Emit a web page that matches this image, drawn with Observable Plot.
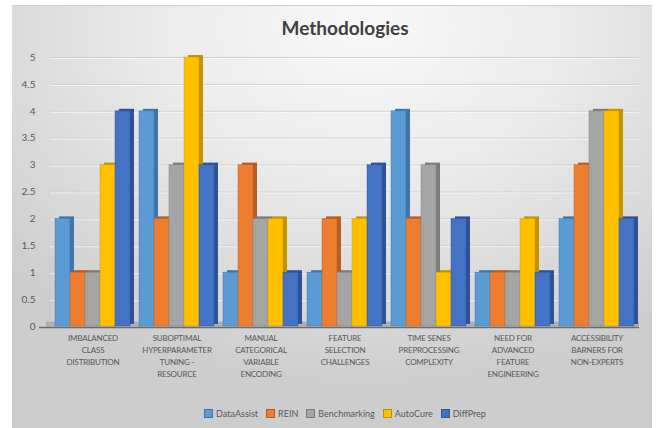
<!DOCTYPE html>
<html>
<head>
<meta charset="utf-8">
<script src="https://cdn.jsdelivr.net/npm/d3@7"></script>
<script src="https://cdn.jsdelivr.net/npm/@observablehq/plot@0.6"></script>
<style>
  html, body { margin: 0; padding: 0; background: #ffffff; }
  #panel {
    position: absolute; left: 12px; top: 5px; width: 640px; height: 423px;
    border-top: 1px solid #cfcfcf;
    background: radial-gradient(ellipse 75% 85% at 55% 5%, #f8f8f8 0%, #ececec 40%, #dadada 75%, #cdcdcd 100%);
    overflow: hidden;
  }
  #title {
    padding-top: 10px; height: 24px; line-height: 24px;
    text-align: center; font-family: Lato, "Open Sans", sans-serif;
    font-weight: bold; font-size: 19px; color: #404040;
    padding-left: 26px; box-sizing: content-box;
  }
  #legend {
    display: flex; justify-content: center; align-items: center; gap: 8px;
    height: 26px; margin-left: 26px;
    font-family: Lato, "Open Sans", sans-serif; font-size: 9px; color: #595959;
  }
  #legend .item { display: flex; align-items: center; gap: 3px; }
  #legend .sw { width: 7px; height: 7px; border: 1px solid rgba(0,0,0,0.25); }
  svg { display: block; }
  .fxlabels text { letter-spacing: -0.2px; }
</style>
</head>
<body>
<div id="panel">
  <div id="title">Methodologies</div>
  <div id="chart"></div>
  <div id="legend"></div>
</div>
<script>
const categories = [
  "Imbalanced Class Distribution",
  "Suboptimal Hyperparameter Tuning - Resource",
  "Manual Categorical Variable Encoding",
  "Feature Selection Challenges",
  "Time Senes Preprocessing Complexity",
  "Need for Advanced Feature Engineering",
  "Accessibility Barners for Non-Experts"
];
const tickLabels = [
  "IMBALANCED\nCLASS\nDISTRIBUTION",
  "SUBOPTIMAL\nHYPERPARAMETER\nTUNING -\nRESOURCE",
  "MANUAL\nCATEGORICAL\nVARIABLE\nENCODING",
  "FEATURE\nSELECTION\nCHALLENGES",
  "TIME SENES\nPREPROCESSING\nCOMPLEXITY",
  "NEED FOR\nADVANCED\nFEATURE\nENGINEERING",
  "ACCESSIBILITY\nBARNERS FOR\nNON-EXPERTS"
];
const series = ["DataAssist", "REIN", "Benchmarking", "AutoCure", "DiffPrep"];
const dataAssist   = [2, 4, 1, 1, 4, 1, 2];
const rein         = [1, 2, 3, 2, 2, 1, 3];
const benchmarking = [1, 3, 2, 1, 3, 1, 4];
const autoCure     = [3, 5, 2, 2, 1, 2, 4];
const diffPrep     = [4, 3, 1, 3, 2, 1, 2];
const yTicks = [0, 0.5, 1, 1.5, 2, 2.5, 3, 3.5, 4, 4.5, 5];
const frontColors = ["#5B9BD5", "#ED7D31", "#A5A5A5", "#FFC000", "#4472C4"];
const sideColors  = ["#3F75A8", "#B85E22", "#7C7C7C", "#C49300", "#2E5395"];

const values = [dataAssist, rein, benchmarking, autoCure, diffPrep];
const rows = [];
series.forEach((s, si) => {
  categories.forEach((c, ci) => rows.push({category: c, series: s, value: values[si][ci]}));
});
const labelOf = new Map(categories.map((c, i) => [c, tickLabels[i]]));
const sideOf = new Map(series.map((s, i) => [s, sideColors[i]]));
const gridTicks = yTicks.filter(d => d > 0);
const restCategories = categories.slice(1);
const firstCategory = categories.slice(0, 1);

const chart = Plot.plot({
  width: 640,
  height: 360,
  marginLeft: 40,
  marginRight: 15,
  marginTop: 17,
  marginBottom: 74,
  style: {background: "transparent", fontFamily: "Lato, 'Open Sans', sans-serif", overflow: "visible"},
  fx: {domain: categories, padding: 0.06, axis: null},
  x: {domain: series, padding: 0, axis: null},
  y: {domain: [0, 5], axis: null},
  color: {domain: series, range: frontColors},
  marks: [
    Plot.ruleY(gridTicks, {stroke: "#d0d0d0", strokeWidth: 1, insetLeft: -3, insetRight: -3}),
    Plot.ruleY(gridTicks, {stroke: "#ffffff", strokeOpacity: 0.6, strokeWidth: 1, dy: 1, insetLeft: -3, insetRight: -3}),
    Plot.ruleY(restCategories, {fx: d => d, y: 0, stroke: "#b0b0b0", strokeWidth: 5, dy: -2.5, insetLeft: -3, insetRight: -3}),
    Plot.ruleY(firstCategory, {fx: d => d, y: 0, stroke: "#b0b0b0", strokeWidth: 5, dy: -2.5, insetLeft: -7, insetRight: -3}),
    Plot.barY(rows, {fx: "category", x: "series", y: "value", fill: d => sideOf.get(d.series), dx: 4, dy: -2}),
    Plot.barY(rows, {fx: "category", x: "series", y: "value", fill: "series", stroke: d => sideOf.get(d.series), strokeWidth: 0.6, strokeOpacity: 0.7}),
    Plot.ruleY(restCategories, {fx: d => d, y: 0, stroke: "#6b6b6b", strokeWidth: 1.3, dy: 1, insetLeft: -3, insetRight: -3}),
    Plot.ruleY(firstCategory, {fx: d => d, y: 0, stroke: "#6b6b6b", strokeWidth: 1.3, dy: 1, insetLeft: -14, insetRight: -3}),
    Plot.axisY({ticks: yTicks, tickSize: 0, tickPadding: 18, fontSize: 10, fill: "#595959", label: null, tickFormat: d => String(d)}),
    Plot.axisFx({anchor: "bottom", tickSize: 0, tickPadding: 6, fontSize: 8, lineHeight: 1.5, fill: "#595959", label: null,
      tickFormat: d => labelOf.get(d), className: "fxlabels"})
  ]
});
document.getElementById("chart").appendChild(chart);

const legend = document.getElementById("legend");
series.forEach((s, i) => {
  const item = document.createElement("div");
  item.className = "item";
  const sw = document.createElement("span");
  sw.className = "sw";
  sw.style.background = frontColors[i];
  const t = document.createElement("span");
  t.textContent = s;
  item.appendChild(sw);
  item.appendChild(t);
  legend.appendChild(item);
});
</script>
</body>
</html>
